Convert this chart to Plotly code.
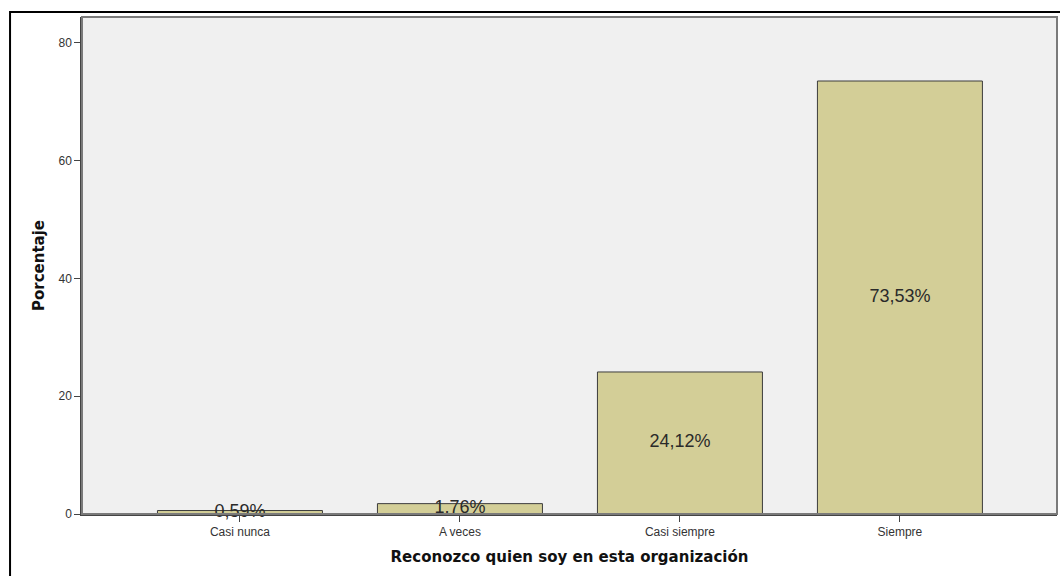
import plotly.graph_objects as go

# Response categories and their share of respondents (%)
categorias = ["Casi nunca", "A veces", "Casi siempre", "Siempre"]
porcentajes = [0.59, 1.76, 24.12, 73.53]
y_ticks = [0, 20, 40, 60, 80]

FONT = "Arial, Liberation Sans, sans-serif"
TITLE_FONT = "DejaVu Sans, Arial, sans-serif"
x_pos = list(range(len(categorias)))

fig = go.Figure()

fig.add_trace(go.Bar(
    x=x_pos,
    y=porcentajes,
    width=0.75,
    marker=dict(color="#d3ce97", line=dict(color="#3c3c3c", width=1)),
    hoverinfo="skip",
    showlegend=False,
))

# Value labels centred vertically within each bar
fig.add_trace(go.Scatter(
    x=x_pos,
    y=[v / 2 for v in porcentajes],
    mode="text",
    text=[f"{v:.2f}".replace(".", ",") + "%" for v in porcentajes],
    textposition="middle center",
    textfont=dict(family=FONT, size=18, color="#2a2a2a"),
    hoverinfo="skip",
    showlegend=False,
    cliponaxis=False,
))

fig.update_layout(
    width=1060,
    height=576,
    margin=dict(l=82, r=3, t=17, b=62),
    paper_bgcolor="white",
    plot_bgcolor="#f0f0f0",
    font=dict(family=FONT, color="#333333"),
    bargap=0.25,
    xaxis=dict(
        range=[-0.718, 3.714],
        tickmode="array",
        tickvals=x_pos,
        ticktext=categorias,
        ticks="outside",
        ticklen=6,
        tickcolor="#444444",
        tickfont=dict(size=12, color="#333333"),
        showgrid=False,
        zeroline=False,
        showline=True,
        linecolor="#444444",
        linewidth=1.5,
        title=dict(text="<b>Reconozco quien soy en esta organización</b>",
                   font=dict(family=TITLE_FONT, size=15, color="#111111"), standoff=13),
    ),
    yaxis=dict(
        range=[0, 84.4],
        tickmode="array",
        tickvals=y_ticks,
        ticks="outside",
        ticklen=6,
        tickcolor="#444444",
        tickfont=dict(size=12, color="#333333"),
        showgrid=False,
        zeroline=False,
        showline=True,
        linecolor="#444444",
        linewidth=1.5,
        title=dict(text="<b>Porcentaje</b>",
                   font=dict(family=TITLE_FONT, size=15, color="#111111"), standoff=10),
    ),
    shapes=[
        # frame around the plotting area
        dict(type="rect", xref="paper", yref="paper", x0=0, y0=0, x1=1, y1=1,
             line=dict(color="#7a7a7a", width=2), layer="above"),
        # outer border around the whole chart
        dict(type="rect", xref="paper", yref="paper",
             x0=-0.0738, y0=-0.2, x1=1.1, y1=1.0101,
             line=dict(color="#000000", width=2), layer="above"),
    ],
)

fig.write_html("out.html")
